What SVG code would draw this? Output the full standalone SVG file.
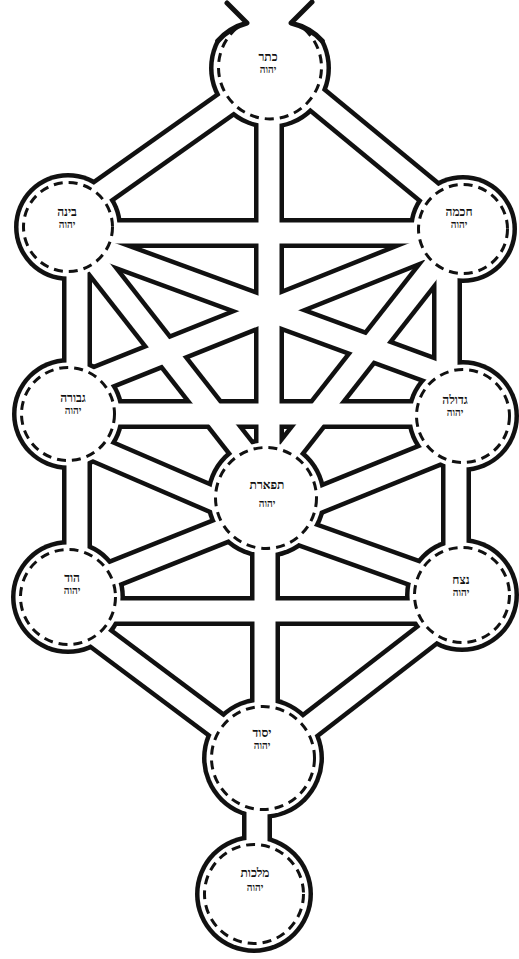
<svg xmlns="http://www.w3.org/2000/svg" xmlns:xlink="http://www.w3.org/1999/xlink" width="519" height="959" viewBox="0 0 519 959">
<style>
.ob{stroke:#111;stroke-width:30;fill:none;stroke-linecap:butt}
.iw{stroke:#fff;stroke-width:21;fill:none;stroke-linecap:butt}
.cb{fill:#111}
.cw{fill:#fff}
.rim{fill:none;stroke:#111;stroke-width:3;stroke-dasharray:9 6}
.hn{fill:none;stroke:#111;stroke-width:5;stroke-linecap:round;stroke-linejoin:round}
.t{font-family:"Liberation Serif","DejaVu Serif",serif;font-weight:bold;font-size:12px;fill:#111;text-anchor:middle}
.s{font-size:10px}
</style>
<defs>
<g id="channel-paths">
<line x1="68" y1="216" x2="270" y2="73"/>
<line x1="270" y1="61" x2="463" y2="220"/>
<line x1="269" y1="68" x2="269" y2="498"/>
<line x1="68" y1="233" x2="463" y2="233"/>
<line x1="77" y1="227" x2="77" y2="414"/>
<line x1="447" y1="229" x2="447" y2="416"/>
<line x1="77" y1="414" x2="77" y2="597"/>
<line x1="456" y1="416" x2="456" y2="595"/>
<line x1="68" y1="237" x2="463" y2="382"/>
<line x1="463" y1="233" x2="68" y2="391"/>
<line x1="68" y1="227" x2="266" y2="480"/>
<line x1="463" y1="229" x2="266" y2="480"/>
<line x1="68" y1="414" x2="463" y2="414"/>
<line x1="80" y1="442" x2="240" y2="511"/>
<line x1="450" y1="447" x2="292" y2="511"/>
<line x1="68" y1="592" x2="266" y2="513"/>
<line x1="462" y1="590" x2="266" y2="520"/>
<line x1="68" y1="611" x2="462" y2="611"/>
<line x1="265" y1="498" x2="265" y2="758"/>
<line x1="68" y1="614" x2="263" y2="760"/>
<line x1="462" y1="608" x2="263" y2="762"/>
<line x1="257" y1="758" x2="257" y2="894"/>
</g>
</defs>
<rect width="519" height="959" fill="#fff"/>
<g id="node-outlines" class="cb">
<circle cx="270" cy="68" r="61"/>
<circle cx="68" cy="227" r="54"/>
<circle cx="463" cy="229" r="54"/>
<circle cx="68" cy="414" r="56"/>
<circle cx="463" cy="416" r="56"/>
<circle cx="266" cy="498" r="60"/>
<circle cx="68" cy="597" r="57"/>
<circle cx="462" cy="595" r="57"/>
<circle cx="263" cy="758" r="61"/>
<circle cx="254" cy="894" r="59"/>
</g>
<g id="connectors">
<use xlink:href="#channel-paths" class="ob"/>
<use xlink:href="#channel-paths" class="iw"/>
</g>
<g id="keter">
<circle class="cw" cx="270" cy="68" r="56.5"/>
<polygon fill="#fff" points="212,41 212,-4 328,-4 328,41 306,34 291,24 270,22 247,24 234,34"/>
<path class="hn" d="M217.8 41 Q229 28 247 23 L227 3"/>
<path class="hn" d="M322.2 41 Q311 28 291 23 L312 2"/>
<path class="rim" d="M236.6 28.2 A51.5 51.5 0 1 0 303.4 28.2"/>
<text class="t" x="268" y="61">כתר</text>
<text class="t s" x="268" y="73">יהוה</text>
</g>
<g id="binah">
<circle class="cw" cx="68" cy="227" r="49.5"/>
<circle class="rim" cx="68" cy="227" r="44.5"/>
<text class="t" x="67" y="216">בינה</text>
<text class="t s" x="67" y="228">יהוה</text>
</g>
<g id="chokhmah">
<circle class="cw" cx="463" cy="229" r="49.5"/>
<circle class="rim" cx="463" cy="229" r="44.5"/>
<text class="t" x="459" y="216">חכמה</text>
<text class="t s" x="459" y="228">יהוה</text>
</g>
<g id="gevurah">
<circle class="cw" cx="68" cy="414" r="51.5"/>
<circle class="rim" cx="68" cy="414" r="46.5"/>
<text class="t" x="73" y="402">גבורה</text>
<text class="t s" x="73" y="414">יהוה</text>
</g>
<g id="chesed">
<circle class="cw" cx="463" cy="416" r="51.5"/>
<circle class="rim" cx="463" cy="416" r="46.5"/>
<text class="t" x="455" y="404">גדולה</text>
<text class="t s" x="455" y="416">יהוה</text>
</g>
<g id="tiferet">
<circle class="cw" cx="266" cy="498" r="55.5"/>
<circle class="rim" cx="266" cy="498" r="50.5"/>
<text class="t" x="267" y="489">תפארת</text>
<text class="t s" x="267" y="507">יהוה</text>
</g>
<g id="hod">
<circle class="cw" cx="68" cy="597" r="52.5"/>
<circle class="rim" cx="68" cy="597" r="47.5"/>
<text class="t" x="72" y="582">הוד</text>
<text class="t s" x="72" y="594">יהוה</text>
</g>
<g id="netzach">
<circle class="cw" cx="462" cy="595" r="52.5"/>
<circle class="rim" cx="462" cy="595" r="47.5"/>
<text class="t" x="461" y="584">נצח</text>
<text class="t s" x="461" y="596">יהוה</text>
</g>
<g id="yesod">
<circle class="cw" cx="263" cy="758" r="56.5"/>
<circle class="rim" cx="263" cy="758" r="51.5"/>
<text class="t" x="262" y="737">יסוד</text>
<text class="t s" x="262" y="749">יהוה</text>
</g>
<g id="malkhut">
<circle class="cw" cx="254" cy="894" r="54.5"/>
<circle class="rim" cx="254" cy="894" r="49.5"/>
<text class="t" x="255" y="877">מלכות</text>
<text class="t s" x="255" y="891">יהוה</text>
</g>
</svg>
